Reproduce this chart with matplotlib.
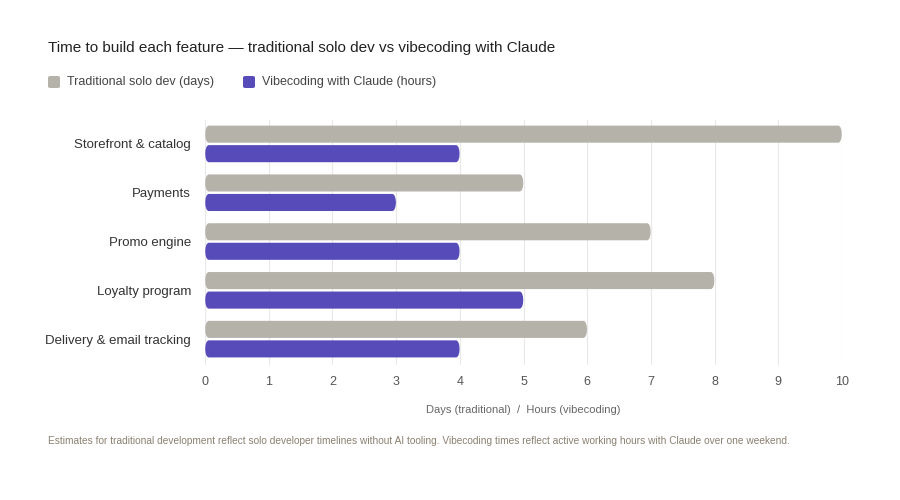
import matplotlib.pyplot as plt
import numpy as np
from matplotlib.patches import FancyBboxPatch

features = ["Storefront & catalog", "Payments", "Promo engine", "Loyalty program", "Delivery & email tracking"]
traditional_days = [10, 5, 7, 8, 6]
vibecoding_hours = [4, 3, 4, 5, 4]

grey = "#b5b2aa"
purple = "#564bb9"

plt.rcParams['font.family'] = ['Liberation Sans', 'DejaVu Sans']
fig = plt.figure(figsize=(9, 5), dpi=100)
ax = fig.add_axes([205 / 900, 1 - 365 / 500, 637 / 900, 245 / 500])

y = np.arange(len(features))
h = 0.35
off = 0.2


def rounded_bars(vals, ypos, color):
    for v, yy in zip(vals, ypos):
        p = FancyBboxPatch((0, yy - h / 2), v, h, boxstyle="round,pad=0,rounding_size=0.06",
                           mutation_aspect=0.5 / 0.12, facecolor=color, edgecolor="none")
        ax.add_patch(p)


rounded_bars(traditional_days, y - off, grey)
rounded_bars(vibecoding_hours, y + off, purple)

ax.set_xlim(0, 10)
ax.set_ylim(len(features) - 1 + 0.53, -0.49)
ax.set_xticks(range(11))
ax.set_yticks(y)
ax.set_yticklabels(features, fontsize=9.5, color="#333333")
ax.tick_params(axis="x", labelsize=9, colors="#555555", length=0, pad=8)
ax.tick_params(axis="y", length=0, pad=10)
ax.grid(axis="x", color="#e8e8e8", linewidth=0.8)
ax.set_axisbelow(True)
for s in ax.spines.values():
    s.set_visible(False)
ax.set_xlabel("Days (traditional)  /  Hours (vibecoding)", fontsize=8, color="#666666", labelpad=12)

fig.text(48 / 900, 1 - 48 / 500, "Time to build each feature \u2014 traditional solo dev vs vibecoding with Claude",
         fontsize=11, color="#222222", va="center")

# legend
fig.patches.append(FancyBboxPatch((48 / 900, 1 - 88 / 500), 12 / 900, 12 / 500, boxstyle="round,pad=0,rounding_size=0.003",
                                  transform=fig.transFigure, facecolor=grey, edgecolor="none"))
fig.text(67 / 900, 1 - 82 / 500, "Traditional solo dev (days)", fontsize=9, color="#444444", va="center")
fig.patches.append(FancyBboxPatch((243 / 900, 1 - 88 / 500), 12 / 900, 12 / 500, boxstyle="round,pad=0,rounding_size=0.003",
                                  transform=fig.transFigure, facecolor=purple, edgecolor="none"))
fig.text(262 / 900, 1 - 82 / 500, "Vibecoding with Claude (hours)", fontsize=9, color="#444444", va="center")

fig.text(48 / 900, 1 - 441 / 500,
         "Estimates for traditional development reflect solo developer timelines without AI tooling. "
         "Vibecoding times reflect active working hours with Claude over one weekend.",
         fontsize=7.3, color="#8a8070", va="center")

fig.savefig("out.png", dpi=100, facecolor="white")
